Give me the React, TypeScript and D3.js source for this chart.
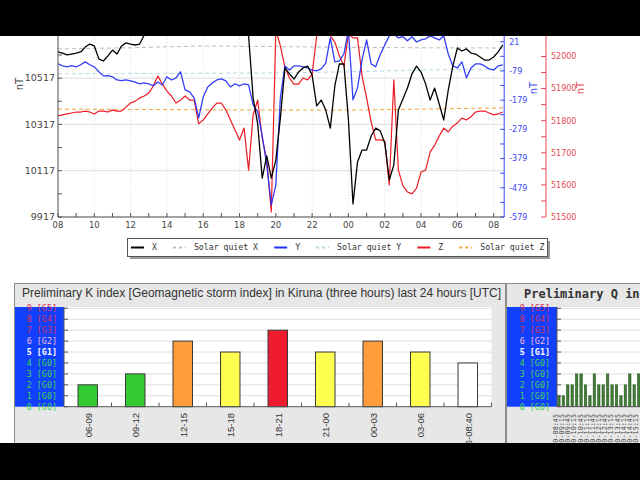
import React from 'react'
import * as d3 from 'd3'

// magnetometer samples, one every 15 minutes starting 08:00 UTC
const STEP_HOURS = 0.25
const xValues = [
  10630, 10625, 10617, 10621, 10625, 10630, 10651, 10664, 10656, 10600, 10591, 10613, 10638, 10621, 10656, 10669, 10664, 10660, 10664, 10703,
  10733, 10745, 10752, 10740, 10748, 10760, 10755, 10742, 10750, 10765, 10770, 10758, 10745, 10752, 10760, 10748, 10740, 10755, 10762, 10750, 10742, 10735,
  10699, 10431, 10319, 10085, 10181, 10085, 10163, 10345, 10561, 10535, 10513, 10543, 10561, 10569, 10530, 10397, 10422, 10379, 10301, 10483, 10578, 10578,
  10336, 9973, 10155, 10206, 10206, 10267, 10301, 10289, 10237, 10077, 10142, 10379, 10427, 10474, 10535, 10569, 10543, 10492, 10422, 10474, 10405, 10336,
  10466, 10569, 10647, 10634, 10643, 10625, 10621, 10608, 10595, 10595, 10608, 10630, 10660,
]
const yValues = [
  -55, -62, -65, -61, -65, -58, -48, -58, -65, -82, -96, -95, -99, -110, -112, -110, -113, -117, -123, -120,
  -123, -130, -117, -127, -99, -110, -103, -82, -144, -151, -171, -240, -168, -134, -120, -110, -106, -113, -134, -123, -130, -123,
  -127, -195, -219, -302, -401, -538, -469, -171, -62, -76, -62, -62, -65, -69, -76, -79, -72, -52, 34, -48, -45, -21,
  61, -178, -137, -41, 27, -55, -65, -24, 10, 41, 48, 34, 38, 24, 38, 20, 27, 31, 41, 34, 27, 41,
  -21, -62, -69, -48, -103, -69, -55, -55, -62, -72, -76, -62, -58,
]
const zValues = [
  51815, 51818, 51821, 51824, 51827, 51827, 51830, 51827, 51821, 51830, 51830, 51827, 51833, 51830, 51830, 51843, 51855, 51861, 51871, 51877,
  51886, 51908, 51939, 51914, 51892, 51877, 51855, 51864, 51877, 51864, 51864, 51790, 51802, 51821, 51840, 51855, 51855, 51833, 51802, 51771, 51740, 51777,
  51646, 51818, 51864, 51746, 51678, 51516, 52083, 52033, 51967, 51933, 51914, 51914, 51933, 51927, 51945, 52064, 52090, 52090, 52064, 52045, 52002, 51970,
  52070, 52058, 52058, 51939, 51871, 51796, 51740, 51740, 51737, 51600, 51927, 51646, 51597, 51578, 51572, 51590, 51640, 51646, 51702, 51724, 51752, 51777,
  51765, 51783, 51793, 51808, 51802, 51812, 51827, 51830, 51830, 51824, 51818, 51821, 51827,
]

// solar quiet curves (hours after 08:00)
const sqHours = [0, 4, 8, 12, 16, 20, 24.6]
const sqX = [10643, 10648, 10656, 10653, 10650, 10648, 10647]
const sqY = [-89, -88, -87, -86, -82, -76, -72]
const sqZ = [51836, 51835, 51834, 51833, 51833, 51836, 51840]

const hourLabels = ['08', '10', '12', '14', '16', '18', '20', '22', '00', '02', '04', '06', '08']
const leftTicks = [9917, 10117, 10317, 10517, 10717]
const blueTicks = [-579, -479, -379, -279, -179, -79, 21]
const redTicks = [51500, 51600, 51700, 51800, 51900, 52000]

const legendItems = ['X', 'Solar quiet X', 'Y', 'Solar quiet Y', 'Z', 'Solar quiet Z']

// K index, three hour blocks
const kLabels = ['06-09', '09-12', '12-15', '15-18', '18-21', '21-00', '00-03', '03-06', '06-08:40']
const kValues = [2, 3, 6, 5, 7, 5, 6, 5, 4]
const gLevels = ['0 [G0]', '1 [G0]', '2 [G0]', '3 [G0]', '4 [G0]', '5 [G1]', '6 [G2]', '7 [G3]', '8 [G4]', '9 [G5]']

// Q index
const qValues = [1, 1, 2, 2, 3, 3, 2, 1, 3, 2, 2, 3, 2, 2, 1, 2, 3, 2, 3]
const qLabels = [
  '08:30-08:45', '09:00-09:15', '09:30-09:45', '10:00-10:15', '10:30-10:45', '11:00-11:15', '11:30-11:45',
  '12:00-12:15', '12:30-12:45', '13:00-13:15', '13:30-13:45', '14:00-14:15', '14:30-14:45', '15:00-15:15',
]

const sans = '"DejaVu Sans", sans-serif'
const mono = '"DejaVu Sans Mono", monospace'
const arial = '"Liberation Sans", Arial, sans-serif'

const C = {
  x: '#000000',
  y: '#1f2ff5',
  z: '#ee1b24',
  sqX: '#bdbdbd',
  sqY: '#b5d9e6',
  sqZ: '#f2a33a',
  blueAxis: '#3a48f2',
  redAxis: '#e34a50',
  grid: '#dedede',
  text: '#444',
  panel: '#e7e7e7',
  gBlue: '#1240ff',
}

const kColor = (v: number, i: number) => {
  if (i === kValues.length - 1) return '#ffffff'
  if (v >= 7) return '#ee1c2e'
  if (v === 6) return '#ff9c3c'
  if (v === 5) return '#ffff50'
  return '#33cc33'
}

const gColor = (lvl: number) => {
  if (lvl >= 7) return '#d8304f'
  if (lvl === 6) return '#f4bccb'
  if (lvl === 5) return '#ffffff'
  return '#3fd14f'
}

function MagnetometerChart() {
  const x = d3.scaleLinear().domain([0, 24.58]).range([58, 504.2])
  const yL = d3.scaleLinear().domain([9917, 10717]).range([217, 31.8])
  const yB = d3.scaleLinear().domain([-579, 21]).range([217, 41.7])
  const yR = d3.scaleLinear().domain([51500, 52000]).range([217, 56.5])
  const bottom = 217

  const series = (vals: number[], s: d3.ScaleLinear<number, number>) =>
    d3.line<number>().x((_, i) => x(i * STEP_HOURS)).y(v => s(v))(vals) || ''
  const quiet = (vals: number[], s: d3.ScaleLinear<number, number>) =>
    d3.line<number>().x((_, i) => x(sqHours[i])).y(v => s(v))(vals) || ''

  const hourTicks = d3.range(0, 25, 1)
  const [x0, x1] = x.range()

  // legend layout
  const charW = 4.94
  let cursor = 131
  const legend = legendItems.map((label, i) => {
    const start = cursor
    cursor += 21 + label.length * charW + 16
    return { label, start, i }
  })
  const legendStyle = [
    { c: C.x, dash: '' },
    { c: C.sqX, dash: '3,3' },
    { c: C.y, dash: '' },
    { c: C.sqY, dash: '3,3' },
    { c: C.z, dash: '' },
    { c: C.sqZ, dash: '3,3' },
  ]

  return (
    <g>
      <defs>
        <clipPath id="plotClip">
          <rect x={x0} y={0} width={x1 - x0} height={bottom} />
        </clipPath>
      </defs>

      {/* grid */}
      {leftTicks.map(t => (
        <line key={'hg' + t} x1={x0} x2={x1} y1={yL(t)} y2={yL(t)} stroke={C.grid} strokeWidth={1} />
      ))}
      {hourLabels.map((_, j) => (
        <line key={'vg' + j} x1={x(j * 2)} x2={x(j * 2)} y1={0} y2={bottom} stroke={C.grid} strokeWidth={1} strokeDasharray="1,2" />
      ))}

      <g clipPath="url(#plotClip)" fill="none" strokeLinejoin="round">
        <path d={quiet(sqX, yL)} stroke={C.sqX} strokeWidth={1} strokeDasharray="4,3" />
        <path d={quiet(sqY, yB)} stroke={C.sqY} strokeWidth={1} strokeDasharray="4,3" />
        <path d={quiet(sqZ, yR)} stroke={C.sqZ} strokeWidth={1} strokeDasharray="4,3" />
        <path d={series(zValues, yR)} stroke={C.z} strokeWidth={1.2} />
        <path d={series(yValues, yB)} stroke={C.y} strokeWidth={1.3} strokeOpacity={0.92} />
        <path d={series(xValues, yL)} stroke={C.x} strokeWidth={1.3} />
      </g>

      {/* left axis */}
      <line x1={x0} x2={x0} y1={0} y2={bottom} stroke="#555" />
      {d3.range(9917, 10718, 100).map(t => (
        <line key={'lt' + t} x1={x0} x2={x0 + 4} y1={yL(t)} y2={yL(t)} stroke="#555" />
      ))}
      {leftTicks.map(t => (
        <text key={'ll' + t} x={x0 - 3} y={yL(t)} dy="0.35em" textAnchor="end" fontFamily={sans} fontSize={9.5} fill={C.text}>
          {t}
        </text>
      ))}
      <text transform="translate(23,84) rotate(-90)" textAnchor="middle" fontFamily={sans} fontSize={10} fill={C.text}>nT</text>

      {/* bottom axis */}
      <line x1={x0} x2={x1} y1={bottom} y2={bottom} stroke="#555" />
      {hourTicks.map(h => (
        <line key={'ht' + h} x1={x(h)} x2={x(h)} y1={bottom} y2={bottom - 4} stroke="#555" />
      ))}
      {hourLabels.map((l, j) => (
        <text key={'hl' + j} x={x(j * 2)} y={225} dy="0.35em" textAnchor="middle" fontFamily={sans} fontSize={8.5} fill={C.text}>
          {l}
        </text>
      ))}

      {/* blue right axis */}
      <line x1={x1} x2={x1} y1={0} y2={bottom} stroke={C.blueAxis} />
      {d3.range(-579, 22, 50).map(t => (
        <line key={'bt' + t} x1={x1} x2={x1 - 4} y1={yB(t)} y2={yB(t)} stroke={C.blueAxis} />
      ))}
      {blueTicks.map(t => (
        <text key={'bl' + t} x={x1 + 5} y={yB(t)} dy="0.35em" fontFamily={sans} fontSize={8} fill={C.blueAxis}>
          {t}
        </text>
      ))}
      <text transform="translate(537,88) rotate(-90)" textAnchor="middle" fontFamily={sans} fontSize={10} fill={C.blueAxis}>nT</text>

      {/* red axis */}
      <line x1={546} x2={546} y1={0} y2={bottom} stroke={C.redAxis} />
      {d3.range(51500, 52001, 50).map(t => (
        <line key={'rt' + t} x1={546} x2={541} y1={yR(t)} y2={yR(t)} stroke={C.redAxis} />
      ))}
      {redTicks.map(t => (
        <text key={'rl' + t} x={551} y={yR(t)} dy="0.35em" fontFamily={sans} fontSize={8} fill={C.redAxis}>
          {t}
        </text>
      ))}
      <text transform="translate(584,88) rotate(-90)" textAnchor="middle" fontFamily={sans} fontSize={10} fill={C.redAxis}>nT</text>

      {/* legend */}
      <rect x={130} y={241} width={420} height={18} fill="#9a9a9a" />
      <rect x={127.5} y={238.5} width={420} height={18} fill="#fff" stroke="#555" />
      {legend.map(({ label, start, i }) => (
        <g key={label}>
          <line x1={start} x2={start + 13} y1={247.5} y2={247.5} stroke={legendStyle[i].c} strokeWidth={2} strokeDasharray={legendStyle[i].dash} />
          <text x={start + 21} y={247.5} dy="0.35em" fontFamily={mono} fontSize={8.2} fill="#333">{label}</text>
        </g>
      ))}
    </g>
  )
}

function GLabels({ right, scale }: { right: number; scale: d3.ScaleLinear<number, number> }) {
  return (
    <g>
      {gLevels.map((g, lvl) => (
        <text key={g + lvl} x={right} y={scale(lvl)} dy="0.35em" textAnchor="end" fontFamily={mono} fontSize={8.4}
          fill={gColor(lvl)} fontWeight={lvl === 5 ? 'bold' : 'normal'}>
          {g}
        </text>
      ))}
    </g>
  )
}

function KPanel() {
  const kx = d3.scaleBand<string>().domain(kLabels).range([64, 491.5]).paddingInner(0.59).paddingOuter(0.295)
  const ky = d3.scaleLinear().domain([0, 9]).range([406.7, 308.3])
  const [px0, px1] = kx.range()
  const step = kx.step()
  return (
    <g>
      <rect x={14.5} y={283.5} width={491} height={220} fill={C.panel} stroke="#8c8c8c" />
      <text x={22} y={297} fontFamily={arial} fontSize={12} fill="#333" textLength={479} lengthAdjust="spacingAndGlyphs">
        Preliminary K index [Geomagnetic storm index] in Kiruna (three hours) last 24 hours [UTC]
      </text>
      <rect x={15} y={307} width={px0 - 15} height={ky(0) - 307} fill={C.gBlue} />
      <rect x={px0} y={307} width={px1 - px0} height={ky(0) - 307} fill="#fff" />
      {d3.range(1, 10).map(v => (
        <line key={'kg' + v} x1={px0} x2={px1} y1={ky(v)} y2={ky(v)} stroke={C.grid} />
      ))}
      {kValues.map((v, i) => (
        <rect key={'kb' + i} x={kx(kLabels[i])} y={ky(v)} width={kx.bandwidth()} height={ky(0) - ky(v)}
          fill={kColor(v, i)} stroke="#3a3a3a" strokeWidth={1} />
      ))}
      <line x1={px0} x2={px0} y1={307} y2={ky(0)} stroke="#555" />
      {d3.range(0, 10).map(v => (
        <line key={'kyt' + v} x1={px0} x2={px0 + 4} y1={ky(v)} y2={ky(v)} stroke="#555" />
      ))}
      <line x1={px0} x2={px1} y1={ky(0)} y2={ky(0)} stroke="#555" />
      {d3.range(1, kLabels.length + 1).map(j => (
        <line key={'kxt' + j} x1={px0 + j * step} x2={px0 + j * step} y1={ky(0)} y2={ky(0) - 4} stroke="#555" />
      ))}
      <GLabels right={57} scale={ky} />
      {kLabels.map(l => (
        <text key={'kl' + l} transform={`translate(${(kx(l) || 0) + kx.bandwidth() / 2 + 4},413) rotate(-90)`}
          textAnchor="end" fontFamily={arial} fontSize={9.5} fill="#333">
          {l}
        </text>
      ))}
    </g>
  )
}

function QPanel() {
  const qx = d3.scaleBand<number>().domain(d3.range(qValues.length)).range([556.7, 556.7 + 4.43 * qValues.length])
    .paddingInner(0.46).paddingOuter(0.23)
  const qlx = d3.scalePoint<string>().domain(qLabels).range([558, 558 + 6.15 * (qLabels.length - 1)])
  const qy = d3.scaleLinear().domain([0, 9]).range([406.7, 308.3])
  return (
    <g>
      <rect x={506.5} y={283.5} width={220} height={220} fill={C.panel} stroke="#8c8c8c" />
      <text x={524} y={298} fontFamily={mono} fontSize={12} fontWeight="bold" fill="#333">
        Preliminary Q in
      </text>
      <rect x={507} y={307} width={50} height={qy(0) - 307} fill={C.gBlue} />
      <rect x={557} y={307} width={100} height={qy(0) - 307} fill="#fff" />
      {d3.range(1, 10).map(v => (
        <line key={'qg' + v} x1={557} x2={660} y1={qy(v)} y2={qy(v)} stroke={C.grid} />
      ))}
      {qValues.map((v, i) => (
        <rect key={'qb' + i} x={qx(i)} y={qy(v)} width={qx.bandwidth()} height={qy(0) - qy(v)}
          fill="#3f7d34" stroke="#2c5a24" strokeWidth={0.6} />
      ))}
      <line x1={557} x2={557} y1={307} y2={qy(0)} stroke="#555" />
      {d3.range(0, 10).map(v => (
        <line key={'qyt' + v} x1={557} x2={561} y1={qy(v)} y2={qy(v)} stroke="#555" />
      ))}
      <line x1={557} x2={660} y1={qy(0)} y2={qy(0)} stroke="#555" />
      <GLabels right={550} scale={qy} />
      {qLabels.map(l => (
        <text key={'ql' + l} transform={`translate(${qlx(l)},414) rotate(-90)`} textAnchor="end"
          fontFamily={mono} fontSize={6.8} fill="#444">
          {l}
        </text>
      ))}
    </g>
  )
}

export default function App() {
  return (
    <svg width={640} height={480} viewBox="0 0 640 480"
      style={{ position: 'absolute', left: 0, top: 0, display: 'block', background: '#fff' }}>
      <rect width={640} height={480} fill="#fff" />
      <MagnetometerChart />
      <KPanel />
      <QPanel />
      {/* screenshot frame */}
      <rect x={0} y={0} width={640} height={36} fill="#000" />
      <rect x={0} y={443} width={640} height={37} fill="#000" />
    </svg>
  )
}
